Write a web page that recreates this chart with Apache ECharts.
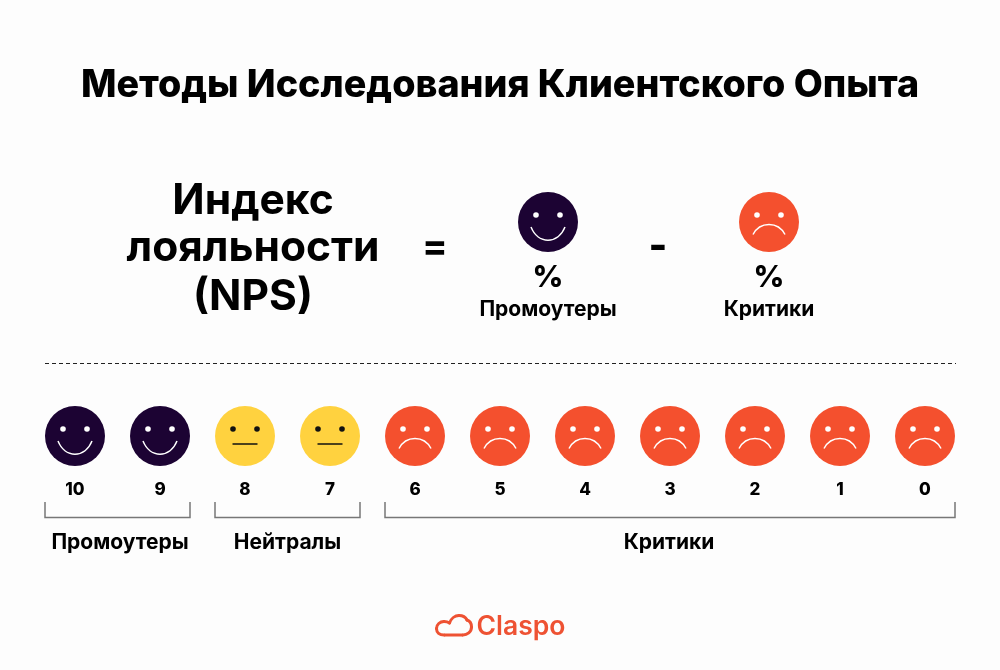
<!DOCTYPE html>
<html><head><meta charset="utf-8">
<style>html,body{margin:0;padding:0;background:#fdfdfd}#c{width:1000px;height:670px}</style>
<script src="https://cdn.jsdelivr.net/npm/echarts@6/dist/echarts.min.js"></script>
</head><body><div id="c"></div>
<script>
const titleText = 'Методы Исследования Клиентского Опыта';
const npsLines = ['Индекс', 'лояльности', '(NPS)'];
const scores = ['10','9','8','7','6','5','4','3','2','1','0'];
const moods = ['happy','happy','flat','flat','sad','sad','sad','sad','sad','sad','sad'];
const groupNames = ['Промоутеры','Нейтралы','Критики'];
const groupStart = ['10','8','6'];
const groupEnd = ['9','7','0'];

const FONT = 'Inter, "Noto Sans", sans-serif';
const INK = '#000000';
const COLORS = {happy:'#1c0333', flat:'#ffd23f', sad:'#f4502e'};
const FEATURE = {happy:'#ffffff', flat:'#111111', sad:'#ffffff'};
const LOGO = '#ee5233';
const LABEL_NUDGE = [2.5, 0, -1];

function face(mood, cx, cy){
  const f = FEATURE[mood];
  const mouth = mood === 'happy'
    ? {type:'bezierCurve', shape:{x1:-17,y1:5,cpx1:-10,cpy1:22.5,cpx2:10,cpy2:22.5,x2:17,y2:5}}
    : mood === 'sad'
    ? {type:'bezierCurve', shape:{x1:-16,y1:12.5,cpx1:-9,cpy1:-0.8,cpx2:9,cpy2:-0.8,x2:16,y2:12.5}}
    : {type:'line', shape:{x1:-12.5,y1:8,x2:12.5,y2:8}};
  mouth.style = {stroke:f, lineWidth:1.5, fill:null};
  return {type:'group', x:cx, y:cy, children:[
    {type:'circle', shape:{cx:0,cy:0,r:30}, style:{fill:COLORS[mood]}},
    {type:'circle', shape:{cx:-12,cy:-7,r:2.8}, style:{fill:f}},
    {type:'circle', shape:{cx:12,cy:-7,r:2.8}, style:{fill:f}},
    mouth
  ]};
}
function txt(t, x, y, size, weight, color){
  return {type:'text', x, y, style:{text:t, fill:color||INK, font:`${weight||700} ${size}px ${FONT}`, textAlign:'center', textVerticalAlign:'middle'}};
}
function logoCurve(x1,y1,cx1,cy1,cx2,cy2,x2,y2){
  return {type:'bezierCurve', shape:{x1,y1,cpx1:cx1,cpy1:cy1,cpx2:cx2,cpy2:cy2,x2,y2},
    style:{stroke:LOGO, lineWidth:3, fill:null, lineCap:'round'}};
}

const graphics = [
  ...npsLines.map((t,i)=>txt(t, 253, [201,248,297][i], 42.5)),
  txt('=', 435, 248, 38),
  txt('-', 658, 247, 40, 800),
  face('happy', 548, 222),
  face('sad', 769, 222),
  txt('%', 548, 278, 30, 800),
  txt('%', 769, 278, 30, 800),
  txt(groupNames[0], 548, 310, 21),
  txt(groupNames[2], 769, 310, 21),
  {type:'line', shape:{x1:45,y1:363.5,x2:956,y2:363.5}, style:{stroke:'#222', lineWidth:1, lineDash:[4,3]}},
  logoCurve(444,635,439.5,635,436.5,632.5,436.5,628.5),
  logoCurve(436.5,628.5,436.5,624.5,440,621.5,444,621.5),
  logoCurve(444,621.5,446,621.5,448,622,449.5,623),
  logoCurve(449.5,623,451,618.5,455,615.5,459,615.5),
  logoCurve(459,615.5,463,615.5,465.5,617,467,620),
  logoCurve(467,620,470,621,471.5,624,471.5,627),
  logoCurve(471.5,627,471.5,632,467,635,463,635),
  {type:'line', shape:{x1:444,y1:635,x2:463,y2:635}, style:{stroke:LOGO, lineWidth:3}},
  txt('Claspo', 521, 627, 26.5, 600, LOGO)
];

const chart = echarts.init(document.getElementById('c'));
chart.setOption({
  animation:false,
  backgroundColor:'#fdfdfd',
  title:{text:titleText, left:'center', top:62, textStyle:{fontFamily:FONT, fontWeight:800, fontSize:37.7, color:INK}},
  grid:{left:32.5, width:935, top:400, height:72},
  xAxis:{type:'category', data:scores, axisLine:{show:false}, axisTick:{show:false}, splitLine:{show:false},
    axisLabel:{fontFamily:FONT, fontWeight:800, fontSize:17, color:INK, margin:9}},
  yAxis:{type:'value', min:0, max:1, show:false},
  graphic:graphics,
  series:[
    {type:'custom', name:'Оценки', clip:false,
     data:scores.map((s,i)=>[i,0.5]),
     renderItem(p,api){
       const c = api.coord([api.value(0),0.5]);
       return face(moods[p.dataIndex], c[0], c[1]);
     }},
    {type:'custom', name:'Группы', clip:false,
     data:groupNames.map((n,i)=>[scores.indexOf(groupStart[i]),scores.indexOf(groupEnd[i])]),
     renderItem(p,api){
       const i = p.dataIndex;
       const a = api.coord([api.value(0),0]);
       const b = api.coord([api.value(1),0]);
       const l = a[0]-30, r = b[0]+30, y = a[1];
       return {type:'group', children:[
         {type:'polyline', shape:{points:[[l,y+30],[l,y+45.5],[r,y+45.5],[r,y+30]]}, style:{stroke:'#777',lineWidth:1.5,fill:null}},
         txt(groupNames[i],(l+r)/2+LABEL_NUDGE[i],y+71,21)
       ]};
     }}
  ]
});
</script></body></html>
